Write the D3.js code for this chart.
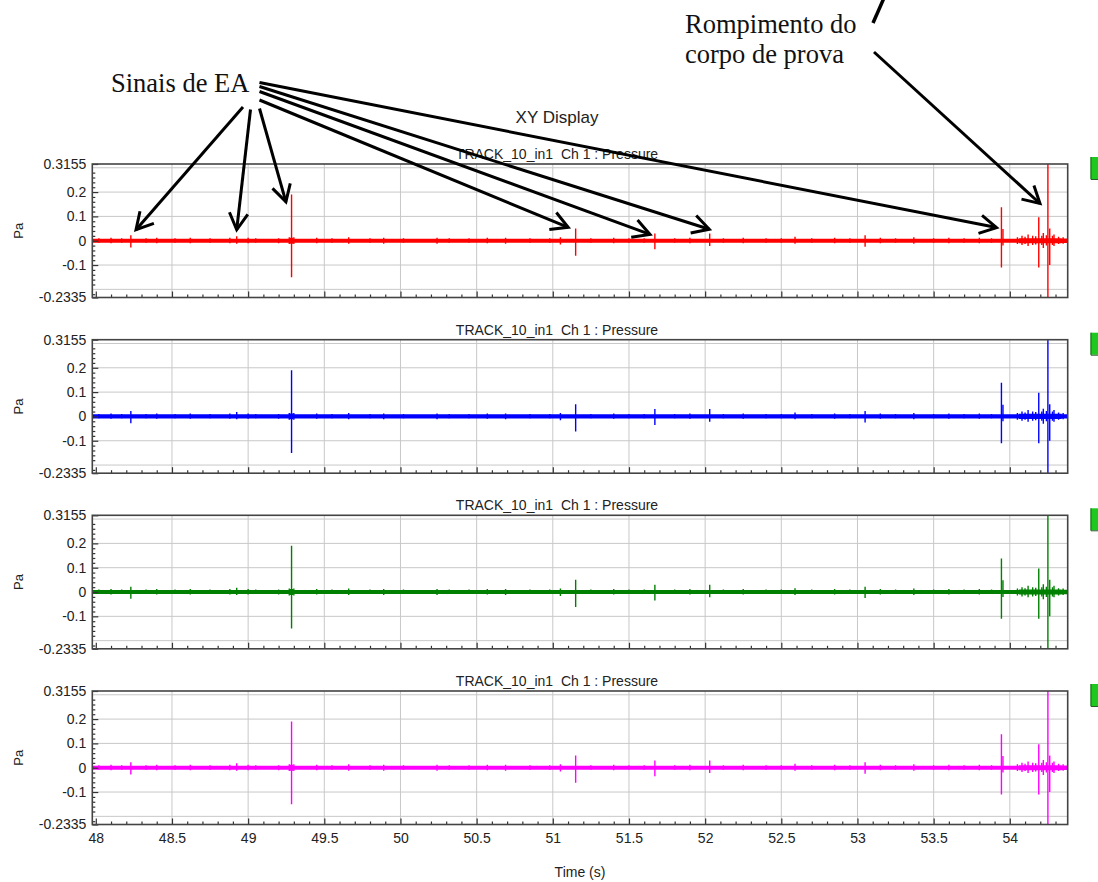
<!DOCTYPE html>
<html>
<head>
<meta charset="utf-8">
<script src="https://cdn.jsdelivr.net/npm/d3@7"></script>
<style>
  body { margin: 0; background: #fff; }
  svg { display: block; }
  text { white-space: pre; }
</style>
</head>
<body>
<svg id="chart" width="1098" height="882"></svg>
<script>
// ---------------- data ----------------
const chartTitle = "XY Display";
const panelTitle = "TRACK_10_in1  Ch 1 : Pressure";
const yAxisLabel = "Pa";
const xAxisLabel = "Time (s)";
const panelColors = ["#ff0000", "#0000ff", "#008000", "#ff00ff"];

const xDomain = [47.977, 54.38];
const yDomain = [-0.2335, 0.3155];
const xTicks = [48, 48.5, 49, 49.5, 50, 50.5, 51, 51.5, 52, 52.5, 53, 53.5, 54];
const xGrid = [48.5, 49, 49.5, 50, 50.5, 51, 51.5, 52, 52.5, 53, 53.5, 54];
const yTicks = [0.3155, 0.2, 0.1, 0, -0.1, -0.2335];
const yGrid = [0.3, 0.2, 0.1, 0, -0.1, -0.2];

// acoustic emission spikes: time (s), max (Pa), min (Pa)
const spikeT  = [48.02, 48.10, 48.17, 48.23, 48.33, 48.40, 48.52, 48.62, 48.75, 48.88, 48.925, 49.00, 49.05, 49.20, 49.27, 49.285, 49.30,
                 49.45, 49.55, 49.66, 49.80, 49.89, 50.02, 50.24, 50.32, 50.45, 50.57, 50.69, 50.85, 50.98, 51.05, 51.15,
                 51.25, 51.40, 51.50, 51.60, 51.67, 51.80, 51.90, 52.03, 52.12, 52.25, 52.40, 52.50, 52.59, 52.70, 52.85,
                 52.95, 53.05, 53.15, 53.25, 53.37, 53.50, 53.60, 53.70, 53.80, 53.88, 53.945, 53.955, 54.05, 54.08, 54.10, 54.12, 54.15,
                 54.17, 54.19, 54.21, 54.22, 54.24, 54.25, 54.262, 54.28, 54.29, 54.32, 54.35];
const spikeHi = [0.010, 0.012, 0.010, 0.022, 0.010, 0.012, 0.010, 0.012, 0.010, 0.012, 0.018, 0.012, 0.010, 0.010, 0.014, 0.190, 0.014,
                 0.012, 0.010, 0.014, 0.010, 0.012, 0.010, 0.012, 0.010, 0.010, 0.012, 0.012, 0.010, 0.010, 0.014, 0.050,
                 0.010, 0.012, 0.010, 0.010, 0.030, 0.010, 0.012, 0.030, 0.010, 0.012, 0.010, 0.010, 0.016, 0.010, 0.012,
                 0.010, 0.022, 0.012, 0.010, 0.014, 0.010, 0.012, 0.010, 0.012, 0.010, 0.138, 0.048, 0.014, 0.020, 0.016, 0.026, 0.020,
                 0.018, 0.097, 0.020, 0.032, 0.022, 0.3155, 0.050, 0.020, 0.026, 0.016, 0.014];
const spikeLo = [-0.008, -0.010, -0.008, -0.028, -0.008, -0.010, -0.008, -0.010, -0.008, -0.010, -0.012, -0.010, -0.008, -0.010, -0.014, -0.150, -0.014,
                 -0.010, -0.008, -0.012, -0.008, -0.012, -0.008, -0.012, -0.008, -0.008, -0.010, -0.012, -0.008, -0.008, -0.016, -0.062,
                 -0.008, -0.010, -0.008, -0.008, -0.035, -0.008, -0.010, -0.022, -0.008, -0.010, -0.008, -0.008, -0.012, -0.008, -0.010,
                 -0.008, -0.025, -0.010, -0.008, -0.012, -0.008, -0.010, -0.008, -0.010, -0.008, -0.110, -0.020, -0.014, -0.018, -0.014, -0.022, -0.018,
                 -0.016, -0.110, -0.018, -0.030, -0.020, -0.2335, -0.100, -0.018, -0.022, -0.014, -0.012];

// background noise envelope (half-width, Pa), step segments starting at noiseT
const noiseT   = [47.977, 49.275, 49.295, 54.06, 54.34];
const noiseAmp = [0.0085, 0.012, 0.0085, 0.0105, 0.009];

// annotation arrows: targets in time / Pa of the first panel
const noteArrowT = [48.264, 48.925, 49.248, 51.101, 51.638, 52.027, 53.913, 54.198];
const noteArrowV = [0.045, 0.045, 0.160, 0.055, 0.026, 0.047, 0.054, 0.153];

// ---------------- layout ----------------
const svg = d3.select("#chart");
const plotLeft = 92.3, plotRight = 1067.7;
const panelTops = [164, 339.7, 515.3, 691];
const panelH = 133.5;

const x = d3.scaleLinear().domain(xDomain).range([plotLeft, plotRight]);
const xMinor = d3.range(480, 544).map(d => d / 10).filter(d => d * 10 % 5 !== 0);
const yMinor = d3.range(-22, 31, 2).map(d => d / 100).filter(d => Math.round(d * 100) % 10 !== 0);

const fontSans = "'Liberation Sans', Arial, sans-serif";

svg.append("text")
  .attr("x", 557).attr("y", 123)
  .attr("text-anchor", "middle")
  .attr("font-family", fontSans).attr("font-size", 17).attr("fill", "#222")
  .text(chartTitle);

const defs = svg.append("defs");

panelTops.forEach((top, i) => {
  const y = d3.scaleLinear().domain(yDomain).range([top + panelH, top]);
  const g = svg.append("g");

  // panel title
  g.append("text")
    .attr("x", 557).attr("y", top - 5)
    .attr("text-anchor", "middle")
    .attr("xml:space", "preserve")
    .attr("font-family", fontSans).attr("font-size", 14).attr("fill", "#222")
    .text(panelTitle);

  // y label
  g.append("text")
    .attr("transform", `translate(23,${top + panelH / 2}) rotate(-90)`)
    .attr("text-anchor", "middle")
    .attr("font-family", fontSans).attr("font-size", 13).attr("fill", "#222")
    .text(yAxisLabel);

  // grid
  g.append("g").selectAll("line").data(xGrid).join("line")
    .attr("x1", d => x(d)).attr("x2", d => x(d))
    .attr("y1", top).attr("y2", top + panelH)
    .attr("stroke", "#c8c8c8").attr("stroke-width", 1);
  g.append("g").selectAll("line").data(yGrid).join("line")
    .attr("x1", plotLeft).attr("x2", plotRight)
    .attr("y1", d => y(d)).attr("y2", d => y(d))
    .attr("stroke", "#c8c8c8").attr("stroke-width", 1);

  // clip
  const cid = "clip" + i;
  defs.append("clipPath").attr("id", cid).append("rect")
    .attr("x", plotLeft).attr("y", top).attr("width", plotRight - plotLeft).attr("height", panelH);

  const data = g.append("g").attr("clip-path", `url(#${cid})`);
  const color = panelColors[i];

  // noise band
  const noisePts = noiseT.map((t, k) => ({ t, a: noiseAmp[k] }));
  noisePts.push({ t: xDomain[1], a: noiseAmp[noiseAmp.length - 1] });
  data.append("path")
    .datum(noisePts)
    .attr("d", d3.area().curve(d3.curveStepAfter)
      .x(d => x(d.t)).y0(d => y(-d.a)).y1(d => y(d.a)))
    .attr("fill", color);

  // spikes
  data.append("g").selectAll("line").data(spikeT.map((t, k) => ({ t, hi: spikeHi[k], lo: spikeLo[k] })))
    .join("line")
    .attr("x1", d => x(d.t)).attr("x2", d => x(d.t))
    .attr("y1", d => y(d.hi)).attr("y2", d => y(d.lo))
    .attr("stroke", color).attr("stroke-width", 1.4);

  // axes (ticks inside)
  const yAx = g.append("g").attr("transform", `translate(${plotLeft},0)`)
    .call(d3.axisLeft(y).tickValues(yTicks).tickSize(-6).tickPadding(6).tickFormat(d => String(d)));
  const yAxMinor = g.append("g").attr("transform", `translate(${plotLeft},0)`)
    .call(d3.axisLeft(y).tickValues(yMinor).tickSize(-3).tickFormat(""));
  const xAx = g.append("g").attr("transform", `translate(0,${top + panelH})`)
    .call(d3.axisBottom(x).tickValues(xTicks).tickSize(-6).tickPadding(9)
      .tickFormat(i === panelTops.length - 1 ? (d => String(d)) : ""));
  const xAxMinor = g.append("g").attr("transform", `translate(0,${top + panelH})`)
    .call(d3.axisBottom(x).tickValues(xMinor).tickSize(-3).tickFormat(""));
  [yAx, yAxMinor, xAx, xAxMinor].forEach(a => {
    a.select(".domain").remove();
    a.selectAll("line").attr("stroke", "#333").attr("stroke-width", 1.2);
    a.selectAll("text").attr("font-family", fontSans).attr("font-size", 14).attr("fill", "#222");
  });

  // frame
  g.append("rect")
    .attr("x", plotLeft).attr("y", top)
    .attr("width", plotRight - plotLeft).attr("height", panelH)
    .attr("fill", "none").attr("stroke", "#444").attr("stroke-width", 1.6);

  // green legend marker at right edge
  g.append("rect")
    .attr("x", 1090.5).attr("y", top - 7).attr("width", 12).attr("height", 22)
    .attr("fill", "#1ec81e");
  g.append("path")
    .attr("d", `M1091,${top - 7}V${top + 15.5}H1098`)
    .attr("fill", "none").attr("stroke", "#2a5a2a").attr("stroke-width", 1);
});

// x label
svg.append("text")
  .attr("x", 580).attr("y", 877)
  .attr("text-anchor", "middle")
  .attr("font-family", fontSans).attr("font-size", 14).attr("fill", "#222")
  .text(xAxisLabel);

// ---------------- annotations ----------------
const yTop = d3.scaleLinear().domain(yDomain).range([panelTops[0] + panelH, panelTops[0]]);
const fontSerif = "'Liberation Serif', 'Times New Roman', serif";
const ann = svg.append("g");

ann.append("text").attr("x", 111).attr("y", 92)
  .attr("font-family", fontSerif).attr("font-size", 26.5).attr("fill", "#111")
  .text("Sinais de EA");
ann.append("text").attr("x", 685).attr("y", 33)
  .attr("font-family", fontSerif).attr("font-size", 26.5).attr("fill", "#111")
  .text("Rompimento do");
ann.append("text").attr("x", 685).attr("y", 63)
  .attr("font-family", fontSerif).attr("font-size", 26.5).attr("fill", "#111")
  .text("corpo de prova");

const arrowStarts = [[243, 107], [250.5, 109.5], [259.5, 108.5], [259.5, 100], [259.5, 91.5], [259.5, 86.5], [259.5, 82.5], [874, 52]];

function drawArrow(x1, y1, x2, y2) {
  const ang = Math.atan2(y1 - y2, x1 - x2);
  const L = 19, spread = Math.PI / 6.2;
  const a1 = [x2 + L * Math.cos(ang + spread), y2 + L * Math.sin(ang + spread)];
  const a2 = [x2 + L * Math.cos(ang - spread), y2 + L * Math.sin(ang - spread)];
  ann.append("line").attr("x1", x1).attr("y1", y1).attr("x2", x2).attr("y2", y2)
    .attr("stroke", "#000").attr("stroke-width", 3);
  ann.append("path")
    .attr("d", `M${a1[0]},${a1[1]}L${x2},${y2}L${a2[0]},${a2[1]}`)
    .attr("fill", "none").attr("stroke", "#000").attr("stroke-width", 3)
    .attr("stroke-linejoin", "miter");
}
noteArrowT.forEach((t, k) => {
  drawArrow(arrowStarts[k][0], arrowStarts[k][1], x(t), yTop(noteArrowV[k]));
});
// tail of an arrow entering from above
ann.append("line").attr("x1", 884).attr("y1", -2).attr("x2", 873).attr("y2", 23)
  .attr("stroke", "#000").attr("stroke-width", 3.5);
</script>
</body>
</html>
